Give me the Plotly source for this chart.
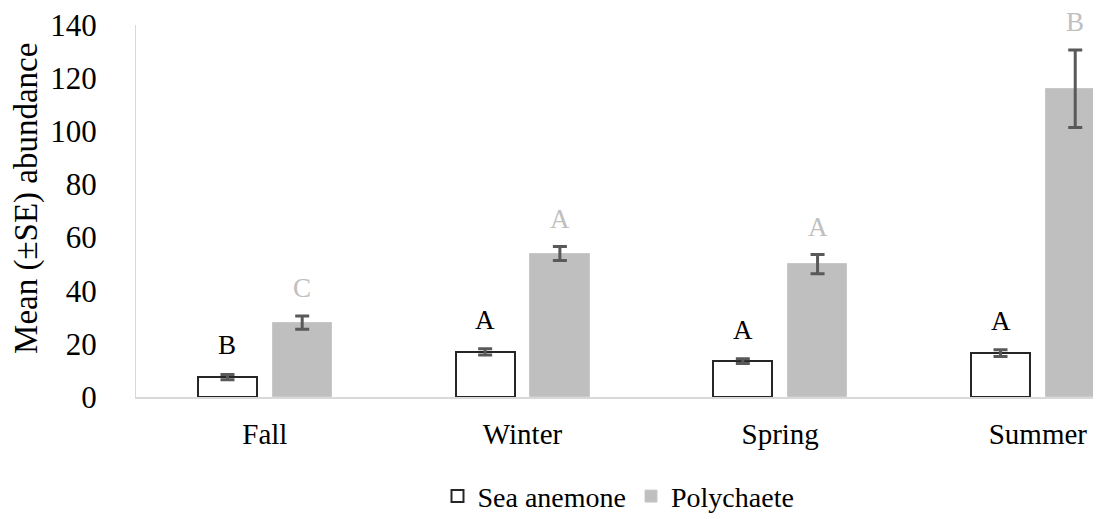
import plotly.graph_objects as go

seasons = ["Fall", "Winter", "Spring", "Summer"]
anemone = [7.5, 17.0, 13.5, 16.5]
anemone_se = [1.0, 1.2, 0.9, 1.3]
polychaete = [28.0, 54.0, 50.0, 116.0]
polychaete_se = [2.5, 2.6, 3.6, 14.6]
anemone_letters = ["B", "A", "A", "A"]
poly_letters = ["C", "A", "A", "B"]

FONT = "Liberation Serif, Times New Roman, serif"
x = list(range(len(seasons)))
W = 0.23

fig = go.Figure()
fig.add_trace(go.Bar(
    x=x, y=anemone, name="Sea anemone", width=W, offset=-0.26,
    marker=dict(color="white", line=dict(color="#262626", width=2)),
    error_y=dict(type="data", array=anemone_se, color="#595959", thickness=3, width=7),
))
fig.add_trace(go.Bar(
    x=x, y=polychaete, name="Polychaete", width=W, offset=0.03,
    marker=dict(color="#bfbfbf", line=dict(color="#c8c8c8", width=1)),
    error_y=dict(type="data", array=polychaete_se, color="#595959", thickness=3, width=7),
))

for i in x:
    fig.add_annotation(x=i - 0.26 + W / 2, y=anemone[i] + anemone_se[i], text=anemone_letters[i],
                       showarrow=False, yanchor="middle", yshift=29,
                       font=dict(family=FONT, size=27, color="black"))
    fig.add_annotation(x=i + 0.03 + W / 2, y=polychaete[i] + polychaete_se[i], text=poly_letters[i],
                       showarrow=False, yanchor="middle", yshift=28,
                       font=dict(family=FONT, size=27, color="#c0c0c0"))

# y-axis title as annotation
fig.add_annotation(text="Mean (±SE) abundance", xref="paper", yref="paper", x=-0.113, y=0.535,
                   xanchor="center", yanchor="middle", textangle=-90, showarrow=False,
                   font=dict(family=FONT, size=33, color="black"))

fig.update_layout(
    width=1101, height=519,
    margin=dict(l=128, r=8, t=17, b=130, autoexpand=False),
    plot_bgcolor="white", paper_bgcolor="white",
    font=dict(family=FONT, size=28, color="black"),
    showlegend=True,
    legend=dict(orientation="h", x=0.5, xref="paper", xanchor="center", y=-0.2, yanchor="top",
                font=dict(family=FONT, size=28), itemwidth=30),
    bargap=0,
)
fig.update_xaxes(
    tickvals=x, ticktext=seasons, range=[-0.5, 3.245],
    showline=True, linecolor="#d9d9d9", linewidth=2, ticks="", showgrid=False,
    tickfont=dict(family=FONT, size=29), zeroline=False, ticklabelstandoff=10,
)
fig.update_yaxes(
    range=[0, 140], dtick=20, showline=True, linecolor="#ddd9c3", linewidth=1,
    showgrid=False, zeroline=False, ticks="", ticklabelstandoff=32,
    ticklabeloverflow="allow",
    tickfont=dict(family=FONT, size=31),
)

fig.write_html("out.html")
